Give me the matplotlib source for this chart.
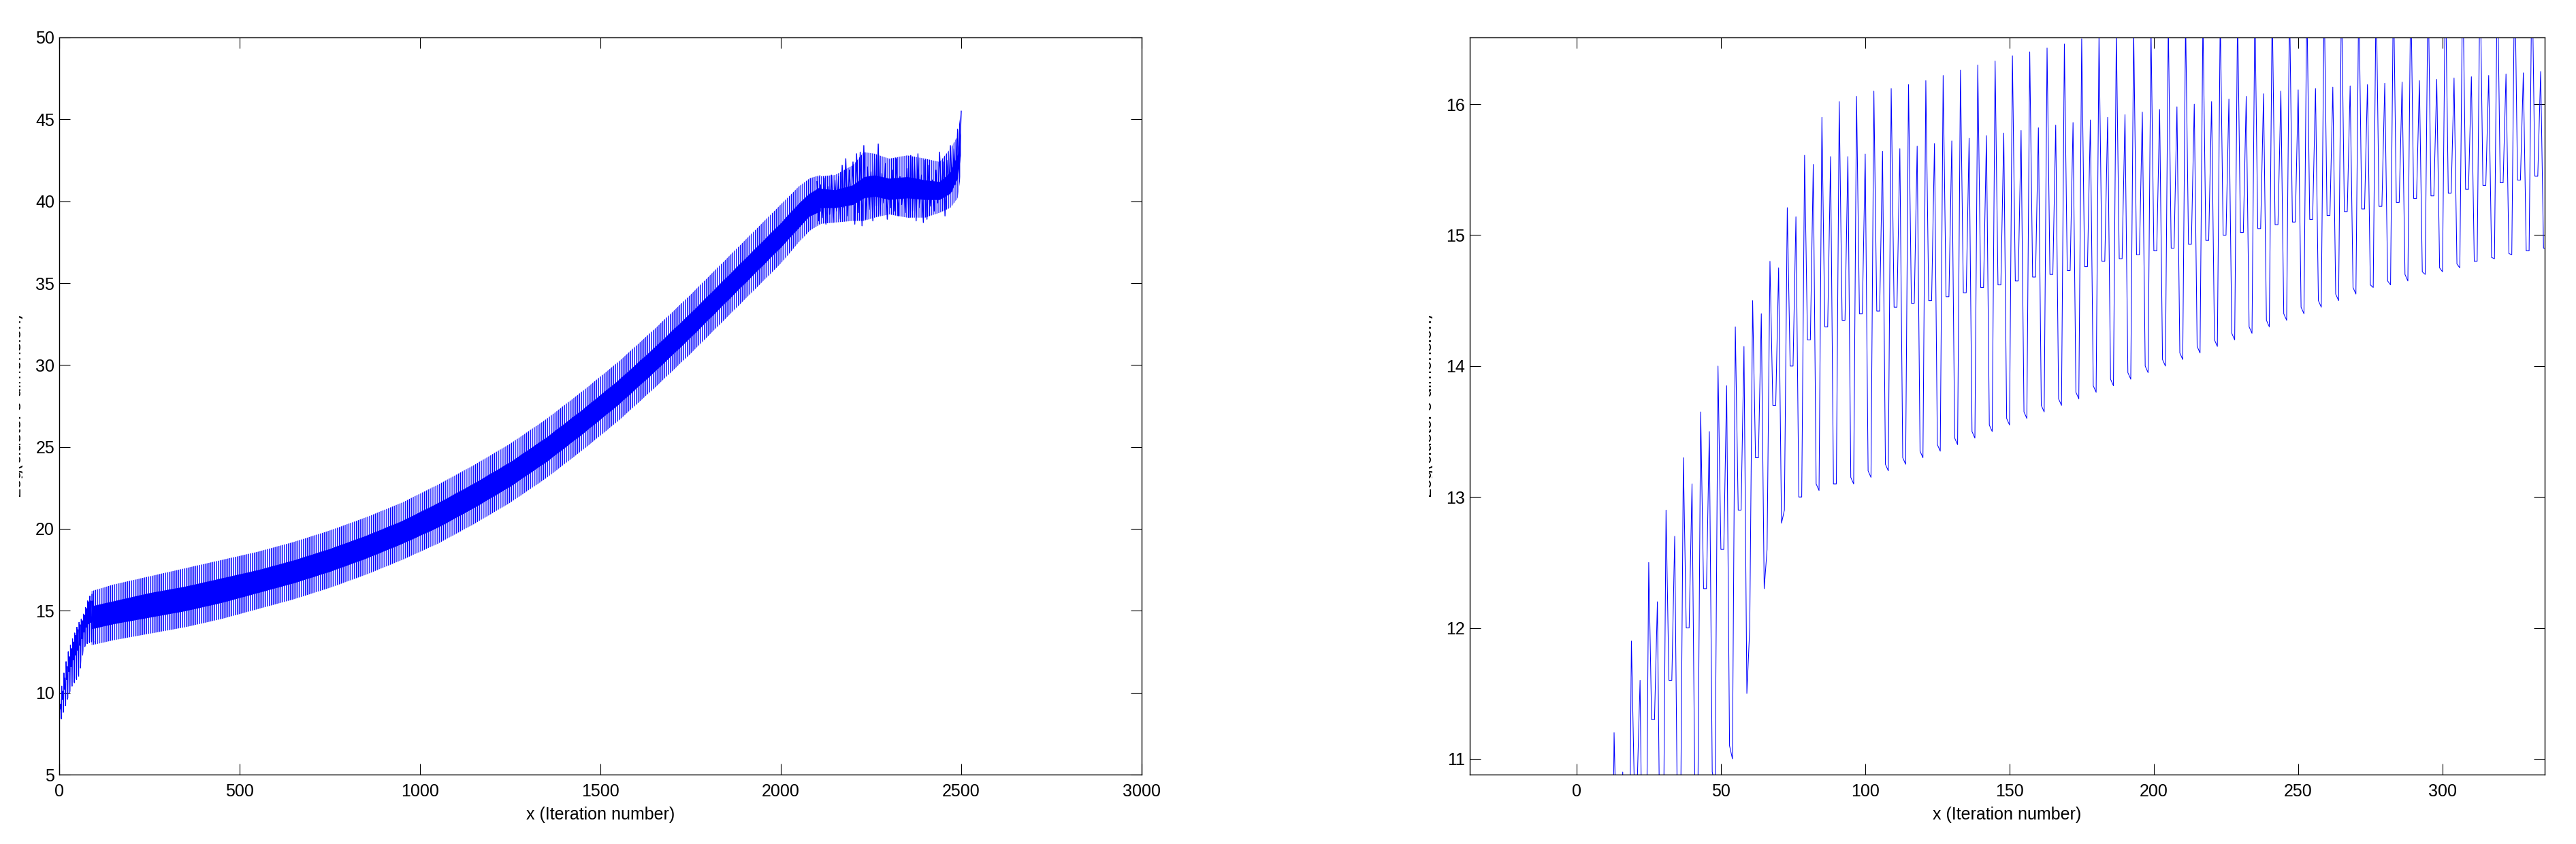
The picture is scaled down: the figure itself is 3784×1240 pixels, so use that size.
import numpy as np
import matplotlib
matplotlib.use("Agg")
import matplotlib.pyplot as plt
from matplotlib.transforms import Bbox, TransformedBbox

OUTPUT_FILENAME = "out.png"
W, H = 3784, 1240

# --- labels ---
X_LABEL = "x (Iteration number)"
Y_LABEL = "Log(cluster's dimension)"
LEFT_XTICKS = [0, 500, 1000, 1500, 2000, 2500, 3000]
LEFT_YTICKS = [5, 10, 15, 20, 25, 30, 35, 40, 45, 50]
RIGHT_XTICKS = [0, 50, 100, 150, 200, 250, 300]
RIGHT_YTICKS = [11, 12, 13, 14, 15, 16]

# --- early iterations, one value per 6-iteration cycle ---
trough_a = [8.2, 8.4, 8.9, 9.3, 9.7, 10.1, 10.4, 10.6, 10.8, 11.0, 12.0, 12.6, 12.9, 13.0, 13.05,
            13.1, 13.1, 13.15, 13.2, 13.25, 13.3, 13.35, 13.4, 13.45, 13.5, 13.55, 13.6, 13.65,
            13.7, 13.75, 13.8, 13.85, 13.9, 13.95, 14.0, 14.05, 14.1, 14.15, 14.2, 14.25, 14.3,
            14.35, 14.4, 14.45, 14.5, 14.55, 14.6, 14.62, 14.65, 14.7, 14.72, 14.75, 14.8, 14.82,
            14.85, 14.88, 14.9]
peak_hi = [9.6, 10.4, 11.2, 11.9, 12.5, 12.9, 13.3, 13.65, 14.0, 14.3, 14.5, 14.8, 15.21, 15.61,
           15.9, 16.02, 16.06, 16.1, 16.12, 16.15, 16.18, 16.22, 16.26, 16.3, 16.33, 16.37, 16.4,
           16.43, 16.46, 16.5, 16.53, 16.56, 16.58, 16.6, 16.63, 16.65, 16.68, 16.7, 16.72, 16.75,
           16.77, 16.8, 16.82, 16.84, 16.86, 16.88, 16.9, 16.92, 16.94, 16.96, 16.98, 17.0, 17.02,
           17.04, 17.06, 17.08, 17.1]
mid_dip = [9.0, 9.6, 10.2, 10.8, 11.3, 11.6, 12.0, 12.3, 12.6, 12.9, 13.3, 13.7, 14.0, 14.2, 14.3,
           14.35, 14.4, 14.42, 14.45, 14.48, 14.5, 14.53, 14.56, 14.6, 14.62, 14.65, 14.68, 14.7,
           14.73, 14.76, 14.8, 14.82, 14.85, 14.88, 14.9, 14.93, 14.96, 15.0, 15.02, 15.05, 15.08,
           15.1, 15.12, 15.15, 15.18, 15.2, 15.22, 15.25, 15.28, 15.3, 15.32, 15.35, 15.38, 15.4,
           15.42, 15.45, 15.48]
peak_lo = [9.3, 10.1, 10.9, 11.6, 12.2, 12.7, 13.1, 13.5, 13.85, 14.15, 14.4, 14.75, 15.14, 15.54,
           15.6, 15.6, 15.62, 15.64, 15.66, 15.68, 15.7, 15.72, 15.74, 15.76, 15.78, 15.8, 15.82,
           15.84, 15.86, 15.88, 15.9, 15.92, 15.94, 15.96, 15.98, 16.0, 16.02, 16.04, 16.06, 16.08,
           16.1, 16.11, 16.12, 16.13, 16.14, 16.15, 16.16, 16.17, 16.18, 16.19, 16.2, 16.21, 16.22,
           16.23, 16.24, 16.25, 16.26]
trough_b = [8.5, 8.8, 9.2, 9.6, 10.0, 10.4, 10.7, 10.9, 11.1, 11.5, 12.3, 12.8, 13.0, 13.1, 13.1,
            13.15, 13.2, 13.25, 13.3, 13.35, 13.4, 13.45, 13.5, 13.55, 13.6, 13.65, 13.7, 13.75,
            13.8, 13.85, 13.9, 13.95, 14.0, 14.05, 14.1, 14.15, 14.2, 14.25, 14.3, 14.35, 14.4,
            14.45, 14.5, 14.55, 14.6, 14.62, 14.65, 14.7, 14.72, 14.75, 14.78, 14.8, 14.83, 14.86,
            14.88, 14.9, 14.92]

# --- main band of the run (iterations 90 - 2110) ---
band_x = [90, 150, 250, 350, 450, 550, 650, 750, 850, 950, 1050, 1150, 1250, 1350, 1450,
          1550, 1650, 1750, 1850, 1950, 2000, 2050, 2080, 2110]
band_top = [16.2, 16.6, 17.1, 17.6, 18.1, 18.6, 19.2, 19.9, 20.7, 21.6, 22.7, 23.9, 25.2, 26.7,
            28.4, 30.2, 32.2, 34.3, 36.5, 38.7, 39.8, 40.9, 41.4, 41.6]
band_bot = [12.9, 13.2, 13.6, 14.0, 14.5, 15.1, 15.7, 16.4, 17.2, 18.1, 19.1, 20.3, 21.6, 23.1,
            24.8, 26.6, 28.6, 30.7, 32.9, 35.1, 36.2, 37.5, 38.2, 38.6]
core_top = [15.3, 15.6, 16.1, 16.5, 17.0, 17.5, 18.1, 18.8, 19.6, 20.5, 21.6, 22.8, 24.1, 25.6,
            27.3, 29.1, 31.1, 33.2, 35.4, 37.6, 38.7, 39.9, 40.5, 40.9]
core_bot = [13.9, 14.2, 14.6, 15.0, 15.5, 16.1, 16.7, 17.4, 18.2, 19.1, 20.1, 21.3, 22.6, 24.1,
            25.8, 27.6, 29.6, 31.7, 33.9, 36.1, 37.2, 38.4, 39.1, 39.4]

# --- noisy tail of the run, every 5 iterations from 2100 to 2500 ---
tail_start, tail_step = 2100, 5
tail_y = [41.2, 38.8, 41.0, 39.0, 41.4, 38.6, 40.9, 39.2, 41.6, 38.7, 41.3, 39.4, 41.5, 38.9, 42.2,
          39.6, 42.6, 39.1, 41.9, 39.8, 42.4, 38.6, 42.9, 39.3, 43.0, 38.5, 43.4, 38.9, 42.1, 39.5,
          41.8, 38.8, 42.6, 39.7, 43.5, 39.2, 41.7, 39.9, 42.3, 38.9, 41.2, 39.6, 41.9, 39.4, 42.6,
          39.1, 41.5, 39.8, 41.1, 39.3, 42.0, 39.0, 42.8, 39.4, 42.7, 38.8, 42.9, 39.6, 41.6, 38.7,
          42.5, 38.9, 42.2, 39.7, 41.3, 39.4, 41.9, 39.9, 43.0, 40.2, 42.4, 39.1, 42.5, 40.4, 43.4,
          40.6, 43.2, 41.0, 44.4, 42.3, 45.5]
# spread and dense centre of the tail
tail_core_x = [2100, 2150, 2200, 2230, 2260, 2300, 2350, 2400, 2440, 2470, 2490, 2498]
tail_band_top = [41.5, 41.6, 42.2, 43.0, 42.9, 42.6, 42.8, 42.6, 42.4, 43.2, 44.0, 45.3]
tail_band_bot = [38.6, 38.7, 38.8, 38.8, 39.0, 39.2, 39.0, 39.0, 39.3, 39.6, 40.2, 41.5]
tail_core_top = [40.8, 40.7, 41.0, 41.5, 41.6, 41.4, 41.5, 41.3, 41.2, 41.8, 42.9, 44.2]
tail_core_bot = [39.6, 39.6, 39.8, 40.2, 40.3, 40.1, 40.2, 40.1, 40.1, 40.5, 41.4, 42.8]

LINE_BLUE = "#0000ff"
STROKES = "|" * 6


def early_series():
    """Lays the per-cycle readings out in iteration order."""
    vals = []
    for k in range(len(peak_hi)):
        vals += [trough_a[k], peak_hi[k], mid_dip[k], mid_dip[k], peak_lo[k], trough_b[k]]
    return np.arange(len(vals)), np.array(vals)


def style_axes(ax, xticks, yticks, xlim, ylim):
    ax.set_xlim(*xlim)
    ax.set_ylim(*ylim)
    ax.set_xticks(xticks)
    ax.set_yticks(yticks)
    ax.tick_params(direction="in", top=True, right=True, length=11.5, width=0.8,
                   labelsize=18, colors="black")
    ax.tick_params(axis="x", pad=9)
    ax.tick_params(axis="y", pad=5)
    for s in ax.spines.values():
        s.set_linewidth(1.0)
    ax.set_xlabel(X_LABEL, fontsize=18, va="center")
    ax.xaxis.set_label_coords(0.5, -59 / 1083)


def clipped_ylabel(fig, x_px, clip_lo, clip_hi):
    t = fig.text(x_px / W, 1 - 596.5 / H, Y_LABEL, rotation=90, rotation_mode="anchor",
                 ha="center", va="baseline", fontsize=18)
    t.set_clip_box(TransformedBbox(Bbox.from_extents(clip_lo / W, 0, clip_hi / W, 1),
                                   fig.transFigure))
    t.set_clip_on(True)


def main():
    plt.rcParams["font.family"] = ["Liberation Sans", "DejaVu Sans"]
    plt.rcParams["hatch.linewidth"] = 1.0
    fig = plt.figure(figsize=(W / 100, H / 100), dpi=100)
    ax1 = fig.add_axes([87 / W, 1 - 1138 / H, (1677 - 87) / W, (1138 - 55) / H])
    ax2 = fig.add_axes([2159 / W, 1 - 1138 / H, (3738 - 2159) / W, (1138 - 55) / H])

    x_e, y_e = early_series()

    # left: whole run -- thin strokes outside, dense core inside
    ax1.fill_between(band_x, band_bot, band_top, facecolor="none", edgecolor=LINE_BLUE,
                     hatch=STROKES, lw=0)
    ax1.fill_between(band_x, core_bot, core_top, color=LINE_BLUE, lw=0)
    ax1.plot(x_e[:97], y_e[:97], color=LINE_BLUE, lw=0.8)
    tail_x = tail_start + tail_step * np.arange(len(tail_y))
    ax1.fill_between(tail_core_x, tail_band_bot, tail_band_top, facecolor="none",
                     edgecolor=LINE_BLUE, hatch=STROKES, lw=0)
    ax1.fill_between(tail_core_x, tail_core_bot, tail_core_top, color=LINE_BLUE, lw=0)
    ax1.plot(tail_x, tail_y, color=LINE_BLUE, lw=1.0)
    style_axes(ax1, LEFT_XTICKS, LEFT_YTICKS, (0, 3000), (5, 50))

    # right: zoom on the first iterations
    ax2.plot(x_e, y_e, color=LINE_BLUE, lw=0.75)
    style_axes(ax2, RIGHT_XTICKS, RIGHT_YTICKS, (-37, 335.4), (10.88, 16.51))

    clipped_ylabel(fig, 31.5, 28, 33)
    clipped_ylabel(fig, 2102.5, 2099, 2104)

    fig.savefig(OUTPUT_FILENAME, dpi=100, facecolor="white")


if __name__ == "__main__":
    main()
